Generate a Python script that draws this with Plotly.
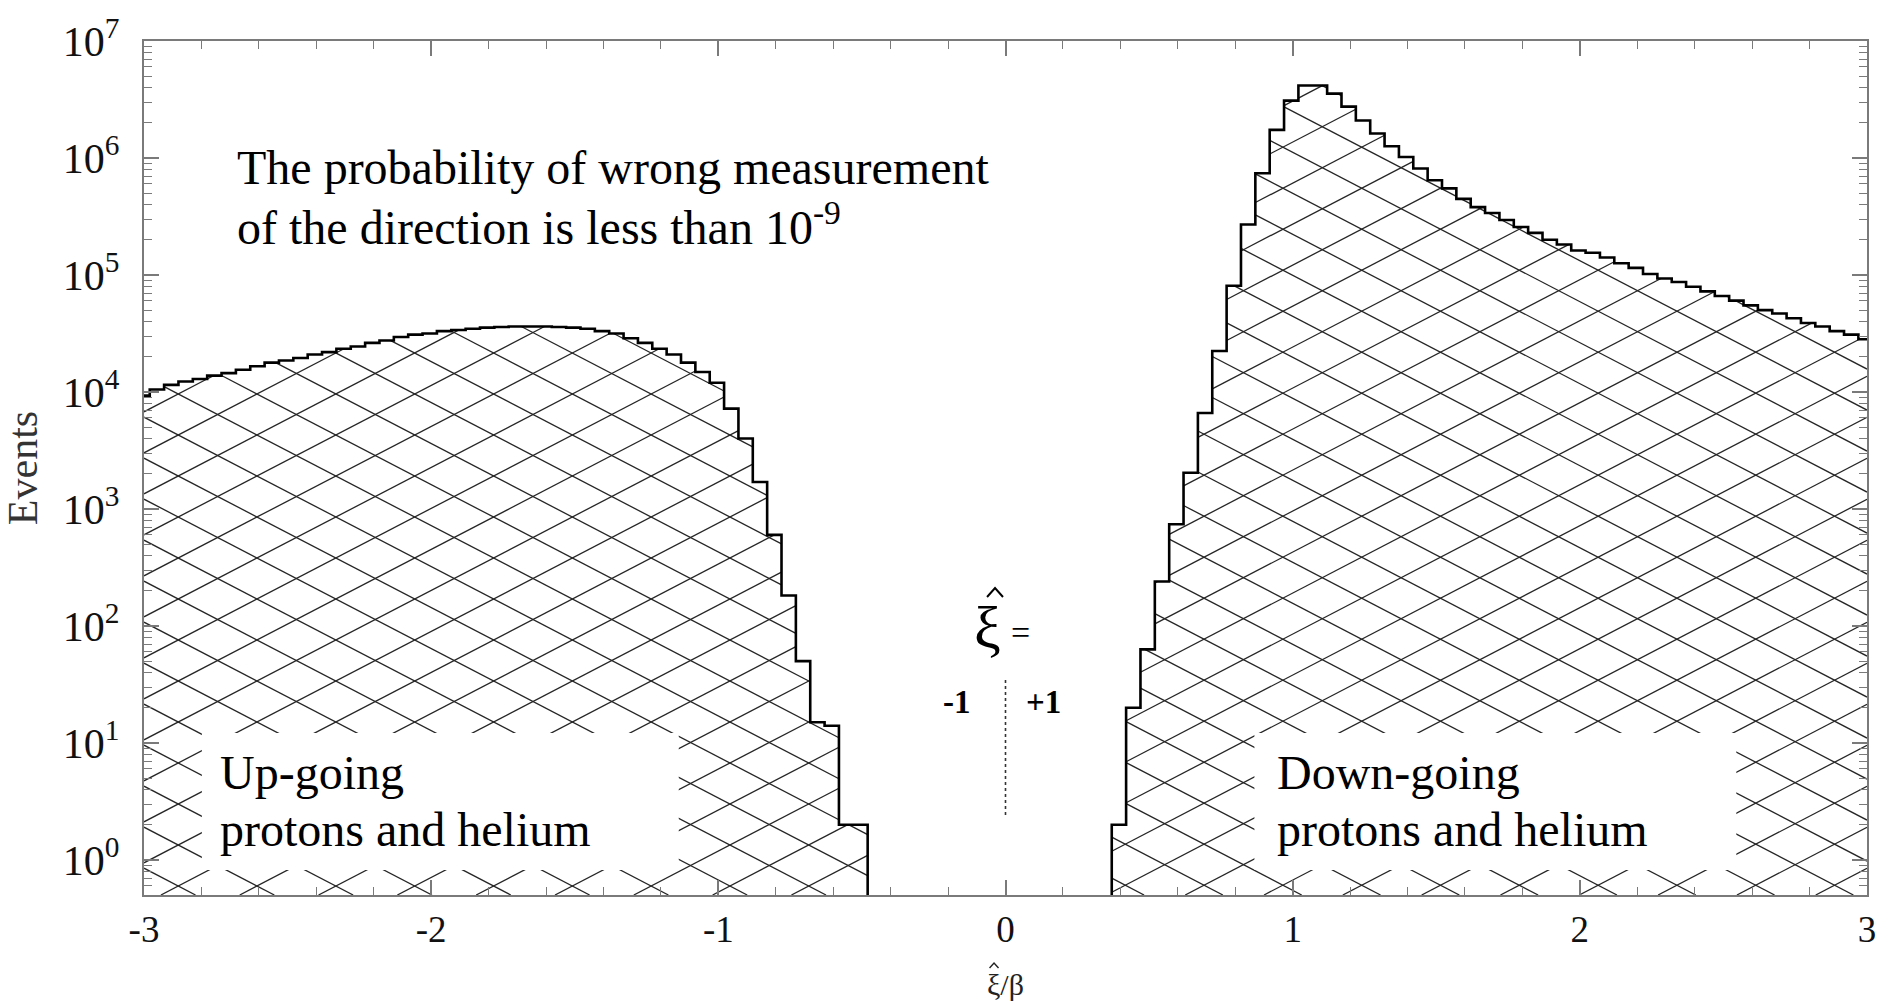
import numpy as np
import plotly.graph_objects as go

# ---------------- data ----------------
bin_start = -3.03          # left edge of first bin
bin_width = 0.05
up_counts = [9300, 10500, 11500, 12300, 12900, 13800, 14500, 15500, 16600, 17800,
             18600, 19500, 20900, 21900, 23400, 24500, 26300, 27500, 29500, 30900,
             31600, 33100, 33900, 34700, 35500, 35900, 36300, 36300, 36300, 35900,
             35500, 34700, 33100, 31600, 28800, 26300, 23400, 20900, 17800, 14800,
             12000, 7200, 4000, 1700, 600, 182, 50, 15, 14, 2, 2]
down_start = 0.37          # left edge of first "down-going" bin
down_counts = [2, 20, 63, 240, 740, 2040, 6600, 22400, 81000, 270000,
               740000, 1740000, 3090000, 4170000, 4170000, 3550000, 2750000, 2090000, 1620000, 1260000,
               1020000, 813000, 646000, 550000, 447000, 380000, 339000, 295000, 257000, 229000,
               200000, 182000, 162000, 155000, 141000, 126000, 115000, 102000, 93300, 87100,
               79400, 72400, 66100, 60300, 55000, 50100, 46800, 42700, 38900, 36300,
               33100, 30900, 28200]
x_tick_vals = [-3, -2, -1, 0, 1, 2, 3]
x_tick_text = ["-3", "-2", "-1", "0", "1", "2", "3"]
y_tick_vals = [1, 10, 100, 1e3, 1e4, 1e5, 1e6, 1e7]
y_tick_text = ["10<sup>0</sup>", "10<sup>1</sup>", "10<sup>2</sup>", "10<sup>3</sup>",
               "10<sup>4</sup>", "10<sup>5</sup>", "10<sup>6</sup>", "10<sup>7</sup>"]

# ---------------- geometry ----------------
W, H = 1888, 1004
ML, MR, MT, MB = 144, 17, 41, 109
PW, PH = W - ML - MR, H - MT - MB
X_RANGE = [-3, 3]
Y_RANGE = [-0.3, 7]   # log10
FLOOR = 0.3           # below the axis minimum, clipped

def x2px(x):
    return ML + (x - X_RANGE[0]) / (X_RANGE[1] - X_RANGE[0]) * PW

def px2x(px):
    return X_RANGE[0] + (px - ML) / PW * (X_RANGE[1] - X_RANGE[0])

def ly2py(ly):
    return MT + PH - (ly - Y_RANGE[0]) / (Y_RANGE[1] - Y_RANGE[0]) * PH

def py2ly(py):
    return Y_RANGE[0] + (MT + PH - py) / PH * (Y_RANGE[1] - Y_RANGE[0])

def pxp(px):
    return (px - ML) / PW

def pyp(py):
    return (MT + PH - py) / PH

up_edges = [bin_start + bin_width * i for i in range(len(up_counts) + 1)]
down_edges = [down_start + bin_width * i for i in range(len(down_counts) + 1)]


def step_xy(edges, counts):
    xs = [edges[0]] + list(edges[:-1]) + [edges[-1], edges[-1]]
    ys = [FLOOR] + list(counts) + [counts[-1], FLOOR]
    return xs, ys


def hatch(edges, counts, anchor, slope=0.519, spacing=41.0):
    bins = []
    for i, c in enumerate(counts):
        a = max(x2px(edges[i]), ML)
        b = min(x2px(edges[i + 1]), ML + PW)
        if b <= a or c <= 0:
            continue
        top = max(ly2py(np.log10(c)), MT)
        bins.append((a, b, top))
    bottom = MT + PH
    xmin, xmax = bins[0][0], bins[-1][1]
    x0, y0 = anchor
    xs, ys = [], []
    for s in (1, -1):
        vals = [y0 + s * slope * (p - x0) for p in (xmin, xmax)]
        jmin = int(np.floor((MT - max(vals)) / spacing)) - 2
        jmax = int(np.ceil((bottom - min(vals)) / spacing)) + 2
        for j in range(jmin, jmax + 1):
            c0 = y0 - s * slope * x0 + spacing * j
            segs = []
            for a, b, top in bins:
                if s == 1:
                    lo, hi = (top - c0) / slope, (bottom - c0) / slope
                else:
                    lo, hi = (c0 - bottom) / slope, (c0 - top) / slope
                p0, p1 = max(a, lo), min(b, hi)
                if p1 > p0 + 1e-6:
                    if segs and abs(segs[-1][1] - p0) < 1e-6:
                        segs[-1][1] = p1
                    else:
                        segs.append([p0, p1])
            for p0, p1 in segs:
                for p in (p0, p1):
                    xs.append(px2x(p))
                    ys.append(10 ** py2ly(c0 + s * slope * p))
                xs.append(None)
                ys.append(None)
    return xs, ys


fig = go.Figure()

hx1, hy1 = hatch(up_edges, up_counts, (178.3, 435.0))
hx2, hy2 = hatch(down_edges, down_counts, (1325.0, 126.7))
fig.add_trace(go.Scatter(x=hx1 + [None] + hx2, y=hy1 + [None] + hy2, mode="lines",
                         line=dict(color="#262626", width=1.3), hoverinfo="skip",
                         showlegend=False))

for edges, counts in ((up_edges, up_counts), (down_edges, down_counts)):
    sx, sy = step_xy(edges, counts)
    fig.add_trace(go.Scatter(x=sx, y=sy, mode="lines", line_shape="hv",
                             line=dict(color="black", width=2.6), showlegend=False))

AX = "#7a7a7a"
TXT = "#111111"
SERIF = "Liberation Serif, Times New Roman, serif"

minor_x = [round(v, 2) for v in np.arange(-3, 3.001, 0.2)]
minor_y = [d * 10.0 ** k for k in range(-1, 7) for d in range(2, 10)
           if -0.3 <= np.log10(d * 10.0 ** k) <= 7]

fig.update_layout(
    width=W, height=H,
    margin=dict(l=ML, r=MR, t=MT, b=MB),
    paper_bgcolor="white", plot_bgcolor="white",
    showlegend=False,
    xaxis=dict(range=X_RANGE, tickmode="array", tickvals=x_tick_vals, ticktext=x_tick_text,
               ticks="inside", ticklen=15, tickwidth=1.6, tickcolor=AX,
               showline=True, linecolor=AX, linewidth=2.2, mirror="allticks",
               showgrid=False, zeroline=False,
               minor=dict(tickmode="array", tickvals=minor_x, ticks="inside", ticklen=8,
                          tickwidth=1.4, tickcolor=AX, showgrid=False),
               tickfont=dict(family=SERIF, size=37, color=TXT), ticklabelstandoff=0),
    yaxis=dict(type="log", range=Y_RANGE, tickmode="array", tickvals=y_tick_vals,
               ticktext=y_tick_text,
               ticks="inside", ticklen=15, tickwidth=1.6, tickcolor=AX,
               showline=True, linecolor=AX, linewidth=2.2, mirror="allticks",
               showgrid=False, zeroline=False,
               minor=dict(tickmode="array", tickvals=minor_y, ticks="inside", ticklen=8,
                          tickwidth=1.4, tickcolor=AX, showgrid=False),
               tickfont=dict(family=SERIF, size=42, color=TXT), ticklabelstandoff=14,
               title=dict(text="Events", font=dict(family=SERIF, size=42, color="#333333"),
                          standoff=20)),
)

# white label boxes
for bx0, bx1 in ((202, 680), (1257, 1740)):
    fig.add_shape(type="rect", xref="paper", yref="paper",
                  x0=pxp(bx0), x1=pxp(bx1), y0=pyp(870), y1=pyp(733),
                  fillcolor="white", line=dict(width=0), layer="above")

# dotted separator at zero
fig.add_shape(type="line", xref="x", yref="paper", x0=0, x1=0, y0=pyp(815), y1=pyp(677),
              line=dict(color="#333333", width=1.6, dash="dot"), layer="above")


def caret(cx, cy, half_w, h, width, color):
    path = "M {:.5f} {:.5f} L {:.5f} {:.5f} L {:.5f} {:.5f}".format(
        pxp(cx - half_w), pyp(cy), pxp(cx), pyp(cy - h), pxp(cx + half_w), pyp(cy))
    fig.add_shape(type="path", xref="paper", yref="paper", path=path,
                  line=dict(color=color, width=width), layer="above")


def txt(text, px, py, size, xanchor="left", bold=False, color="black", family=SERIF):
    if bold:
        text = "<b>" + text + "</b>"
    fig.add_annotation(xref="paper", yref="paper", x=pxp(px), y=pyp(py), text=text,
                       showarrow=False, xanchor=xanchor, yanchor="middle",
                       font=dict(family=family, size=size, color=color))


txt("The probability of wrong measurement", 235, 167, 48)
txt("of the direction is less than 10<sup>-9</sup>", 235, 224, 48)
txt("Up-going", 218, 772, 48)
txt("protons and helium", 218, 829, 48)
txt("Down-going", 1278, 772, 48)
txt("protons and helium", 1278, 829, 48)
# xi-hat = , with -1 | +1 below
txt("\u03be", 989, 628, 60, xanchor="center")
caret(997, 597, 8, 9, 2.0, "black")
txt("=", 1023, 632, 34, xanchor="center")
txt("-1", 959, 702, 33, xanchor="center", bold=True)
txt("+1", 1046, 702, 33, xanchor="center", bold=True)
# x-axis title: xi-hat / beta
txt("\u03be/\u03b2", 1008, 984, 30, xanchor="center", color="#222222")
caret(996, 968, 4.5, 5, 1.4, "#222222")

fig.write_html("out.html")
